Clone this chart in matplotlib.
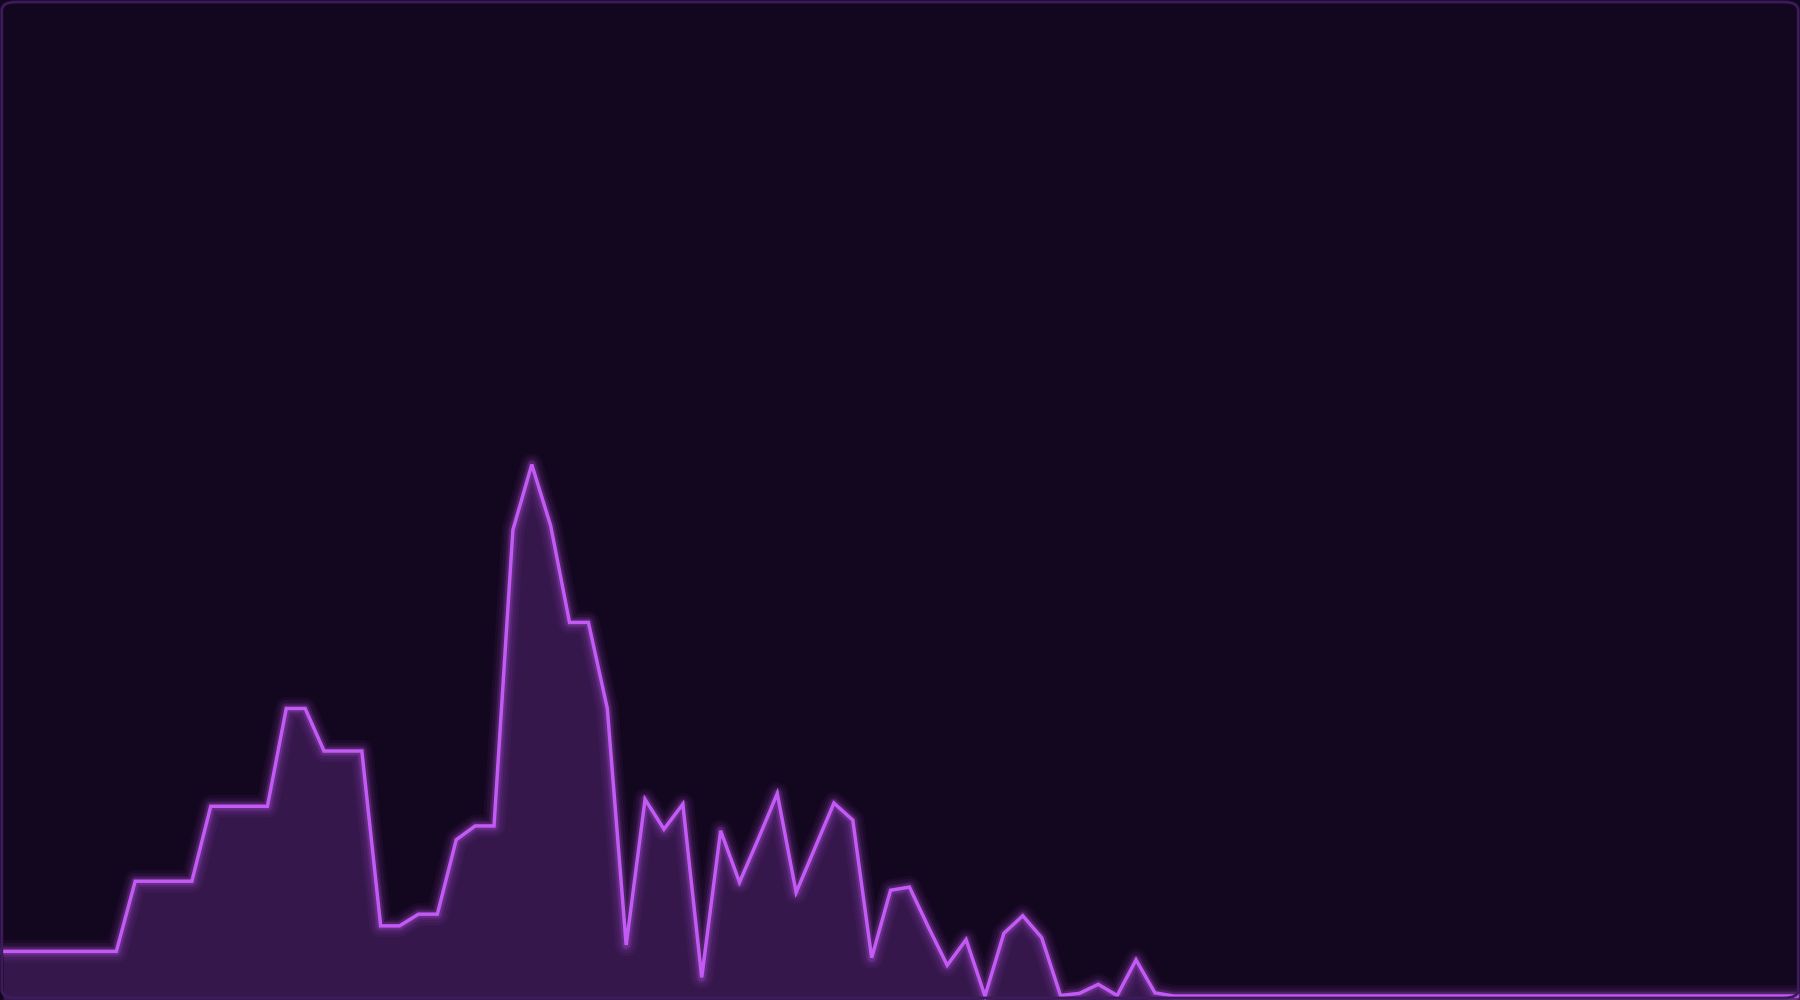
"""
Neon area chart on a dark background
"""
import numpy as np
import matplotlib.pyplot as plt
from matplotlib.patches import FancyBboxPatch

# Series values (peak = 100)
levels = [8.4, 8.4, 8.4, 8.4, 8.4, 8.4, 8.4,
          21.6, 21.6, 21.6, 21.6,
          35.7, 35.7, 35.7, 35.7,
          54.1, 54.1,
          46.1, 46.1, 46.1,
          13.2, 13.2, 15.4, 15.4,
          29.4, 32.0, 32.0,
          87.7, 100.0, 88.5, 70.3, 70.3, 54.1,
          9.6, 37.0, 31.4, 36.1, 3.5, 31.1, 21.4, 29.6, 38.1, 19.5, 27.9,
          36.3, 33.1, 7.2, 19.9, 20.5, 13.0, 5.8, 10.6, 0.0, 11.8, 15.1,
          11.0, 0.1, 0.5, 2.2, 0.1, 6.8, 0.6] + [0.0] * 34

bg_color = '#13061f'
line_color = '#c45af5'
fill_color = '#36174c'
frame_color = '#3c1b5a'


def main():
    y = np.array(levels)
    x = np.arange(len(y))

    fig = plt.figure(figsize=(18, 10), dpi=100, facecolor=bg_color)
    ax = fig.add_axes([0, 0, 1, 1])
    ax.set_facecolor(bg_color)

    ax.fill_between(x, y, -5, color=fill_color, lw=0, zorder=1)

    # soft glow under the line
    for lw, alpha in [(16, 0.05), (12, 0.07), (8, 0.11), (5.5, 0.18)]:
        ax.plot(x, y, color=line_color, lw=lw, alpha=alpha,
                solid_joinstyle='round', solid_capstyle='round', zorder=2)
    ax.plot(x, y, color=line_color, lw=2.5, solid_joinstyle='miter', zorder=3)

    ax.set_xlim(-0.16, len(y) - 1 + 0.16)
    ax.set_ylim(-0.75, 187.4)
    ax.axis('off')

    # rounded outer frame
    frame = FancyBboxPatch((0.001, 0.002), 0.998, 0.996,
                           boxstyle='round,pad=0,rounding_size=0.008',
                           transform=fig.transFigure, fill=False,
                           ec=frame_color, lw=2, zorder=10)
    fig.patches.append(frame)

    fig.savefig('out.png', facecolor=bg_color)


if __name__ == "__main__":
    main()
